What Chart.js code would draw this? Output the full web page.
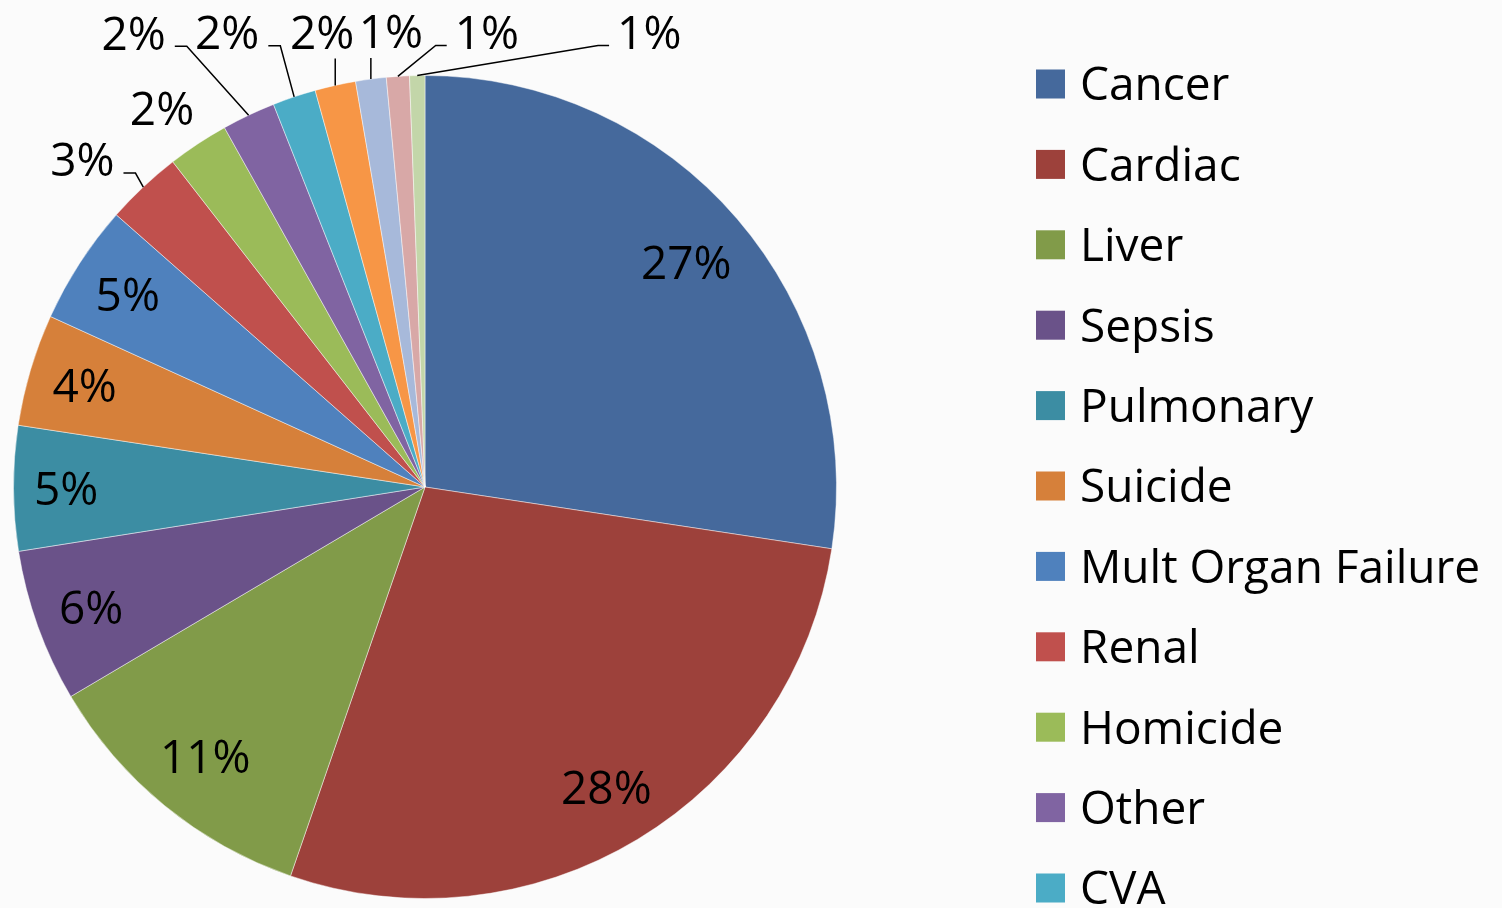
<!DOCTYPE html>
<html>
<head>
<meta charset="utf-8">
<title>Causes of death</title>
<script src="https://cdn.jsdelivr.net/npm/chart.js@4/dist/chart.umd.min.js"></script>
<style>
  html, body { margin: 0; padding: 0; background: #fbfbfb; }
  #wrap { width: 1502px; height: 908px; }
</style>
</head>
<body>
<div id="wrap"><canvas id="chart" width="1502" height="908"></canvas></div>
<script>
// categories (legend is cut off after CVA in the original)
const causes = [
  "Cancer", "Cardiac", "Liver", "Sepsis", "Pulmonary", "Suicide",
  "Mult Organ Failure", "Renal", "Homicide", "Other", "CVA",
  "Trauma", "GI Bleed", "Neurologic", "Unknown"
];
// share of deaths, percent
const shares = [27.4, 27.9, 11.2, 6.0, 4.9, 4.4, 4.7, 3.0, 2.4, 2.1, 1.7, 1.6, 1.2, 0.9, 0.6];

const sliceColors = [
  "#45699c", "#9d413b", "#819b49", "#6a5289", "#3c8da3", "#d6803a",
  "#4f81bd", "#c0504d", "#9bbb59", "#8064a2", "#4bacc6", "#f79646",
  "#a7b9da", "#d8a8a7", "#c3d6a9"
];

// where the small-slice labels sit relative to their slice edge (dx, dy, leader style)
const labelShift = [
  null, null, null, null, null, null, null,
  [-61, -27, "left"], [-36, -35, "none"], [-115, -82, "left"], [-67, -64, "left"],
  [-13, -53, "up"], [20, -47, "up"], [89, -44, "right"], [232, -43, "right"]
];

const FONT = "'Open Sans', 'Noto Sans', sans-serif";
const FONT_SIZE = 46;

const pieLabels = {
  id: "pieLabels",
  afterDatasetsDraw(chart) {
    const ctx = chart.ctx;
    const meta = chart.getDatasetMeta(0);
    const data = chart.data.datasets[0].data;
    const total = data.reduce((a, b) => a + b, 0);
    ctx.save();
    ctx.font = FONT_SIZE + "px " + FONT;
    ctx.fillStyle = "#000";
    ctx.strokeStyle = "#000";
    ctx.lineWidth = 1.5;
    ctx.textAlign = "center";
    ctx.textBaseline = "alphabetic";
    const capHalf = FONT_SIZE * 0.357;

    meta.data.forEach((arc, i) => {
      const text = Math.round(data[i] / total * 100) + "%";
      const w = ctx.measureText(text).width / 2;
      const mid = (arc.startAngle + arc.endAngle) / 2;
      const ux = Math.cos(mid), uy = Math.sin(mid);
      const R = arc.outerRadius;
      let tx, ty;
      const shift = labelShift[i];
      if (!shift) {
        // inside end: push the text box out until it nearly touches the rim
        const h = 19, pad = 20;
        const b = w * Math.abs(ux) + h * Math.abs(uy);
        const c = w * w + h * h - (R - pad) * (R - pad);
        const d = -b + Math.sqrt(b * b - c);
        tx = arc.x + d * ux;
        ty = arc.y + d * uy;
      } else {
        const ax = arc.x + R * ux, ay = arc.y + R * uy;
        tx = ax + shift[0];
        ty = ay + shift[1];
        const hy = ty + 13;
        ctx.beginPath();
        if (shift[2] === "left") {
          const xr = tx + w;
          ctx.moveTo(ax, ay);
          ctx.lineTo(xr + 21, hy);
          ctx.lineTo(xr + 9, hy);
        } else if (shift[2] === "right") {
          const xl = tx - w;
          ctx.moveTo(ax, ay);
          ctx.lineTo(xl - 19, hy);
          ctx.lineTo(xl - 8, hy);
        } else if (shift[2] === "up") {
          ctx.moveTo(ax, ay);
          ctx.lineTo(ax, ty + 26);
        }
        ctx.stroke();
      }
      ctx.fillText(text, tx, ty + capHalf);
    });
    ctx.restore();
  }
};

const sideLegend = {
  id: "sideLegend",
  afterDraw(chart) {
    const ctx = chart.ctx;
    const colors = chart.data.datasets[0].backgroundColor;
    const x0 = 1036, box = 29, step = 80.4, y0 = 84;
    ctx.save();
    ctx.font = FONT_SIZE + "px " + FONT;
    ctx.textAlign = "left";
    ctx.textBaseline = "alphabetic";
    chart.data.labels.forEach((name, i) => {
      const cy = y0 + i * step;
      ctx.fillStyle = colors[i];
      ctx.fillRect(x0, cy - box / 2, box, box);
      ctx.fillStyle = "#000";
      ctx.fillText(name, x0 + 44, cy + FONT_SIZE * 0.357);
    });
    ctx.restore();
  }
};

new Chart(document.getElementById("chart"), {
  type: "pie",
  data: {
    labels: causes,
    datasets: [{
      data: shares,
      backgroundColor: sliceColors,
      borderColor: "rgba(255,255,255,0.45)",
      borderWidth: 1
    }]
  },
  options: {
    responsive: false,
    animation: false,
    layout: { padding: { left: 13, top: 75, right: 665, bottom: 9 } },
    plugins: {
      legend: { display: false },
      tooltip: { enabled: false }
    }
  },
  plugins: [pieLabels, sideLegend]
});
</script>
</body>
</html>
